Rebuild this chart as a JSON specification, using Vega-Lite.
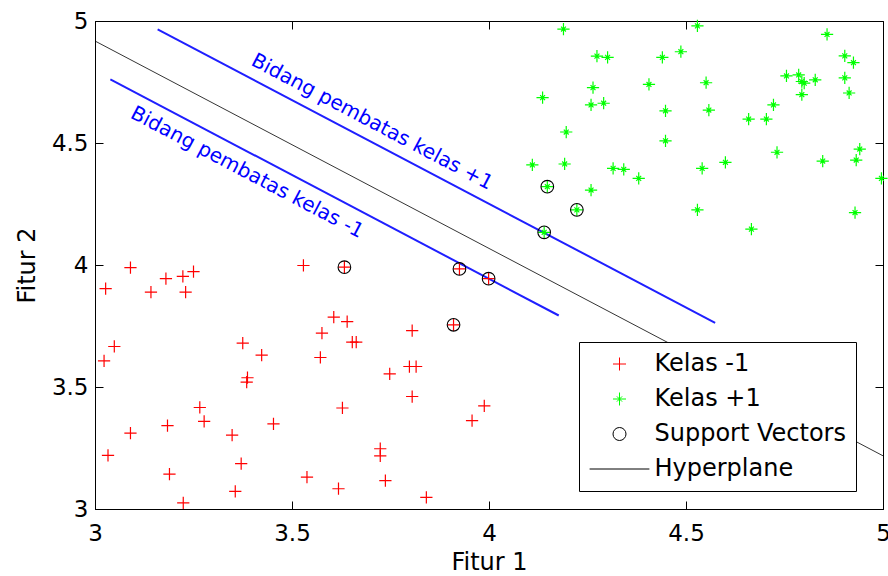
{
  "$schema": "https://vega.github.io/schema/vega-lite/v6.json",
  "width": 788,
  "height": 488,
  "autosize": {"type": "none"},
  "padding": {"left": 95, "top": 21, "right": 5, "bottom": 67},
  "background": "white",
  "config": {
    "view": {"stroke": "black", "strokeWidth": 1},
    "font": "DejaVu Sans",
    "axis": {
      "grid": false,
      "domainColor": "black",
      "tickColor": "black",
      "labelColor": "black",
      "titleColor": "black",
      "labelFont": "DejaVu Sans",
      "labelFontSize": 23,
      "titleFont": "DejaVu Sans",
      "titleFontSize": 24,
      "titleFontWeight": "normal",
      "labelFlush": false,
      "labelOverlap": false,
      "tickSize": -8,
      "tickWidth": 1,
      "domainWidth": 1
    },
    "legend": {
      "orient": "none",
      "legendX": 484,
      "legendY": 321,
      "strokeColor": "black",
      "fillColor": "white",
      "padding": 10,
      "labelFont": "DejaVu Sans",
      "labelFontSize": 24,
      "labelColor": "black",
      "symbolSize": 169,
      "symbolStrokeWidth": 1,
      "rowPadding": 11,
      "labelOffset": 23,
      "symbolOffset": 18.5,
      "labelLimit": 400
    }
  },
  "datasets": {
    "points": [
      {"x": 3.090, "y": 3.989, "series": "Kelas -1"},
      {"x": 3.027, "y": 3.903, "series": "Kelas -1"},
      {"x": 3.142, "y": 3.889, "series": "Kelas -1"},
      {"x": 3.180, "y": 3.944, "series": "Kelas -1"},
      {"x": 3.223, "y": 3.953, "series": "Kelas -1"},
      {"x": 3.250, "y": 3.973, "series": "Kelas -1"},
      {"x": 3.230, "y": 3.889, "series": "Kelas -1"},
      {"x": 3.049, "y": 3.666, "series": "Kelas -1"},
      {"x": 3.023, "y": 3.607, "series": "Kelas -1"},
      {"x": 3.375, "y": 3.680, "series": "Kelas -1"},
      {"x": 3.423, "y": 3.631, "series": "Kelas -1"},
      {"x": 3.387, "y": 3.538, "series": "Kelas -1"},
      {"x": 3.385, "y": 3.520, "series": "Kelas -1"},
      {"x": 3.266, "y": 3.416, "series": "Kelas -1"},
      {"x": 3.277, "y": 3.359, "series": "Kelas -1"},
      {"x": 3.184, "y": 3.342, "series": "Kelas -1"},
      {"x": 3.090, "y": 3.311, "series": "Kelas -1"},
      {"x": 3.033, "y": 3.220, "series": "Kelas -1"},
      {"x": 3.348, "y": 3.303, "series": "Kelas -1"},
      {"x": 3.453, "y": 3.349, "series": "Kelas -1"},
      {"x": 3.371, "y": 3.186, "series": "Kelas -1"},
      {"x": 3.189, "y": 3.143, "series": "Kelas -1"},
      {"x": 3.356, "y": 3.072, "series": "Kelas -1"},
      {"x": 3.224, "y": 3.025, "series": "Kelas -1"},
      {"x": 3.529, "y": 3.998, "series": "Kelas -1"},
      {"x": 3.633, "y": 3.991, "series": "Kelas -1"},
      {"x": 3.925, "y": 3.984, "series": "Kelas -1"},
      {"x": 3.999, "y": 3.944, "series": "Kelas -1"},
      {"x": 3.910, "y": 3.755, "series": "Kelas -1"},
      {"x": 3.606, "y": 3.786, "series": "Kelas -1"},
      {"x": 3.640, "y": 3.768, "series": "Kelas -1"},
      {"x": 3.576, "y": 3.721, "series": "Kelas -1"},
      {"x": 3.653, "y": 3.684, "series": "Kelas -1"},
      {"x": 3.663, "y": 3.684, "series": "Kelas -1"},
      {"x": 3.572, "y": 3.621, "series": "Kelas -1"},
      {"x": 3.805, "y": 3.731, "series": "Kelas -1"},
      {"x": 3.798, "y": 3.584, "series": "Kelas -1"},
      {"x": 3.815, "y": 3.584, "series": "Kelas -1"},
      {"x": 3.748, "y": 3.554, "series": "Kelas -1"},
      {"x": 3.805, "y": 3.461, "series": "Kelas -1"},
      {"x": 3.628, "y": 3.414, "series": "Kelas -1"},
      {"x": 3.988, "y": 3.423, "series": "Kelas -1"},
      {"x": 3.957, "y": 3.362, "series": "Kelas -1"},
      {"x": 3.724, "y": 3.247, "series": "Kelas -1"},
      {"x": 3.724, "y": 3.218, "series": "Kelas -1"},
      {"x": 3.538, "y": 3.131, "series": "Kelas -1"},
      {"x": 3.618, "y": 3.083, "series": "Kelas -1"},
      {"x": 3.737, "y": 3.116, "series": "Kelas -1"},
      {"x": 3.841, "y": 3.048, "series": "Kelas -1"},
      {"x": 4.189, "y": 4.967, "series": "Kelas +1"},
      {"x": 4.529, "y": 4.980, "series": "Kelas +1"},
      {"x": 4.858, "y": 4.945, "series": "Kelas +1"},
      {"x": 4.274, "y": 4.856, "series": "Kelas +1"},
      {"x": 4.301, "y": 4.851, "series": "Kelas +1"},
      {"x": 4.440, "y": 4.851, "series": "Kelas +1"},
      {"x": 4.487, "y": 4.874, "series": "Kelas +1"},
      {"x": 4.903, "y": 4.857, "series": "Kelas +1"},
      {"x": 4.925, "y": 4.829, "series": "Kelas +1"},
      {"x": 4.136, "y": 4.686, "series": "Kelas +1"},
      {"x": 4.264, "y": 4.727, "series": "Kelas +1"},
      {"x": 4.259, "y": 4.656, "series": "Kelas +1"},
      {"x": 4.291, "y": 4.663, "series": "Kelas +1"},
      {"x": 4.406, "y": 4.740, "series": "Kelas +1"},
      {"x": 4.551, "y": 4.747, "series": "Kelas +1"},
      {"x": 4.448, "y": 4.632, "series": "Kelas +1"},
      {"x": 4.558, "y": 4.635, "series": "Kelas +1"},
      {"x": 4.659, "y": 4.598, "series": "Kelas +1"},
      {"x": 4.704, "y": 4.598, "series": "Kelas +1"},
      {"x": 4.722, "y": 4.656, "series": "Kelas +1"},
      {"x": 4.755, "y": 4.775, "series": "Kelas +1"},
      {"x": 4.786, "y": 4.779, "series": "Kelas +1"},
      {"x": 4.794, "y": 4.752, "series": "Kelas +1"},
      {"x": 4.800, "y": 4.745, "series": "Kelas +1"},
      {"x": 4.828, "y": 4.759, "series": "Kelas +1"},
      {"x": 4.794, "y": 4.698, "series": "Kelas +1"},
      {"x": 4.903, "y": 4.767, "series": "Kelas +1"},
      {"x": 4.914, "y": 4.705, "series": "Kelas +1"},
      {"x": 4.196, "y": 4.545, "series": "Kelas +1"},
      {"x": 4.448, "y": 4.509, "series": "Kelas +1"},
      {"x": 4.110, "y": 4.410, "series": "Kelas +1"},
      {"x": 4.192, "y": 4.414, "series": "Kelas +1"},
      {"x": 4.315, "y": 4.396, "series": "Kelas +1"},
      {"x": 4.342, "y": 4.392, "series": "Kelas +1"},
      {"x": 4.380, "y": 4.355, "series": "Kelas +1"},
      {"x": 4.541, "y": 4.396, "series": "Kelas +1"},
      {"x": 4.600, "y": 4.421, "series": "Kelas +1"},
      {"x": 4.731, "y": 4.462, "series": "Kelas +1"},
      {"x": 4.847, "y": 4.426, "series": "Kelas +1"},
      {"x": 4.941, "y": 4.475, "series": "Kelas +1"},
      {"x": 4.932, "y": 4.430, "series": "Kelas +1"},
      {"x": 4.996, "y": 4.355, "series": "Kelas +1"},
      {"x": 4.259, "y": 4.307, "series": "Kelas +1"},
      {"x": 4.148, "y": 4.321, "series": "Kelas +1"},
      {"x": 4.223, "y": 4.226, "series": "Kelas +1"},
      {"x": 4.140, "y": 4.134, "series": "Kelas +1"},
      {"x": 4.529, "y": 4.226, "series": "Kelas +1"},
      {"x": 4.666, "y": 4.147, "series": "Kelas +1"},
      {"x": 4.929, "y": 4.215, "series": "Kelas +1"}
    ],
    "sv": [
      {"x": 3.633, "y": 3.991, "series": "Support Vectors"},
      {"x": 3.925, "y": 3.984, "series": "Support Vectors"},
      {"x": 3.999, "y": 3.944, "series": "Support Vectors"},
      {"x": 3.910, "y": 3.755, "series": "Support Vectors"},
      {"x": 4.148, "y": 4.321, "series": "Support Vectors"},
      {"x": 4.223, "y": 4.226, "series": "Support Vectors"},
      {"x": 4.140, "y": 4.134, "series": "Support Vectors"}
    ],
    "hyper": [
      {"x": 3.0, "y": 4.918, "series": "Hyperplane"},
      {"x": 5.0, "y": 3.218, "series": "Hyperplane"}
    ],
    "bounds": [
      {"x": 3.159, "y": 4.966, "side": "+1"},
      {"x": 4.574, "y": 3.763, "side": "+1"},
      {"x": 3.039, "y": 4.761, "side": "-1"},
      {"x": 4.177, "y": 3.793, "side": "-1"}
    ],
    "labels": [
      {"x": 3.703, "y": 4.586, "text": "Bidang pembatas kelas +1"},
      {"x": 3.386, "y": 4.379, "text": "Bidang pembatas kelas -1"}
    ]
  },
  "resolve": {"axis": {"x": "independent", "y": "independent"}},
  "layer": [
    {
      "data": {"name": "bounds"},
      "mark": {"type": "line", "color": "#1f1fff", "strokeWidth": 2},
      "encoding": {
        "x": {"field": "x", "type": "quantitative", "scale": {"domain": [3, 5], "nice": false, "zero": false}, "axis": null},
        "y": {"field": "y", "type": "quantitative", "scale": {"domain": [3, 5], "nice": false, "zero": false}, "axis": null},
        "detail": {"field": "side"}
      }
    },
    {
      "data": {"name": "hyper"},
      "mark": {"type": "line", "strokeWidth": 0.8},
      "encoding": {
        "x": {"field": "x", "type": "quantitative", "axis": null},
        "y": {"field": "y", "type": "quantitative", "axis": null},
        "color": {
          "field": "series", "type": "nominal",
          "scale": {"domain": ["Kelas -1", "Kelas +1", "Support Vectors", "Hyperplane"], "range": ["#ff0000", "#00ff00", "#000000", "#000000"]},
          "legend": {"title": null, "orient": "none", "legendX": 484, "legendY": 321}
        }
      }
    },
    {
      "data": {"name": "points"},
      "mark": {"type": "point", "filled": false, "size": 150, "strokeWidth": 1.2, "opacity": 1},
      "encoding": {
        "x": {
          "field": "x", "type": "quantitative", "title": "Fitur 1",
          "axis": {"orient": "bottom", "values": [3, 3.5, 4, 4.5, 5], "format": "~g", "labelPadding": 21, "titlePadding": 5}
        },
        "y": {
          "field": "y", "type": "quantitative", "title": "Fitur 2",
          "axis": {"orient": "left", "values": [3, 3.5, 4, 4.5, 5], "format": "~g", "labelPadding": 15, "titlePadding": 12}
        },
        "color": {
          "field": "series", "type": "nominal",
          "scale": {"domain": ["Kelas -1", "Kelas +1", "Support Vectors", "Hyperplane"], "range": ["#ff0000", "#00ff00", "#000000", "#000000"]},
          "legend": {"title": null, "orient": "none", "legendX": 484, "legendY": 321}
        },
        "shape": {
          "field": "series", "type": "nominal",
          "scale": {
            "domain": ["Kelas -1", "Kelas +1", "Support Vectors", "Hyperplane"],
            "range": ["M-1,0L1,0M0,-1L0,1", "M-1,0L1,0M0,-1L0,1M-0.4,-0.4L0.4,0.4M-0.4,0.4L0.4,-0.4", "circle", "M-4.6,0L4.6,0"]
          },
          "legend": {"title": null, "orient": "none", "legendX": 484, "legendY": 321}
        }
      }
    },
    {
      "data": {"name": "sv"},
      "mark": {"type": "point", "filled": false, "size": 160, "strokeWidth": 1.1, "opacity": 1},
      "encoding": {
        "x": {"field": "x", "type": "quantitative", "axis": null},
        "y": {"field": "y", "type": "quantitative", "axis": null},
        "color": {"field": "series", "type": "nominal"},
        "shape": {"field": "series", "type": "nominal"}
      }
    },
    {
      "data": {"name": "labels"},
      "mark": {"type": "text", "angle": 27.8, "color": "#0000ff", "font": "DejaVu Sans", "fontSize": 20, "align": "center", "baseline": "middle"},
      "encoding": {
        "x": {"field": "x", "type": "quantitative", "axis": {"orient": "top", "values": [3, 3.5, 4, 4.5, 5], "labels": false, "domain": false, "title": null}},
        "y": {"field": "y", "type": "quantitative", "axis": {"orient": "right", "values": [3, 3.5, 4, 4.5, 5], "labels": false, "domain": false, "title": null}},
        "text": {"field": "text"}
      }
    }
  ]
}
